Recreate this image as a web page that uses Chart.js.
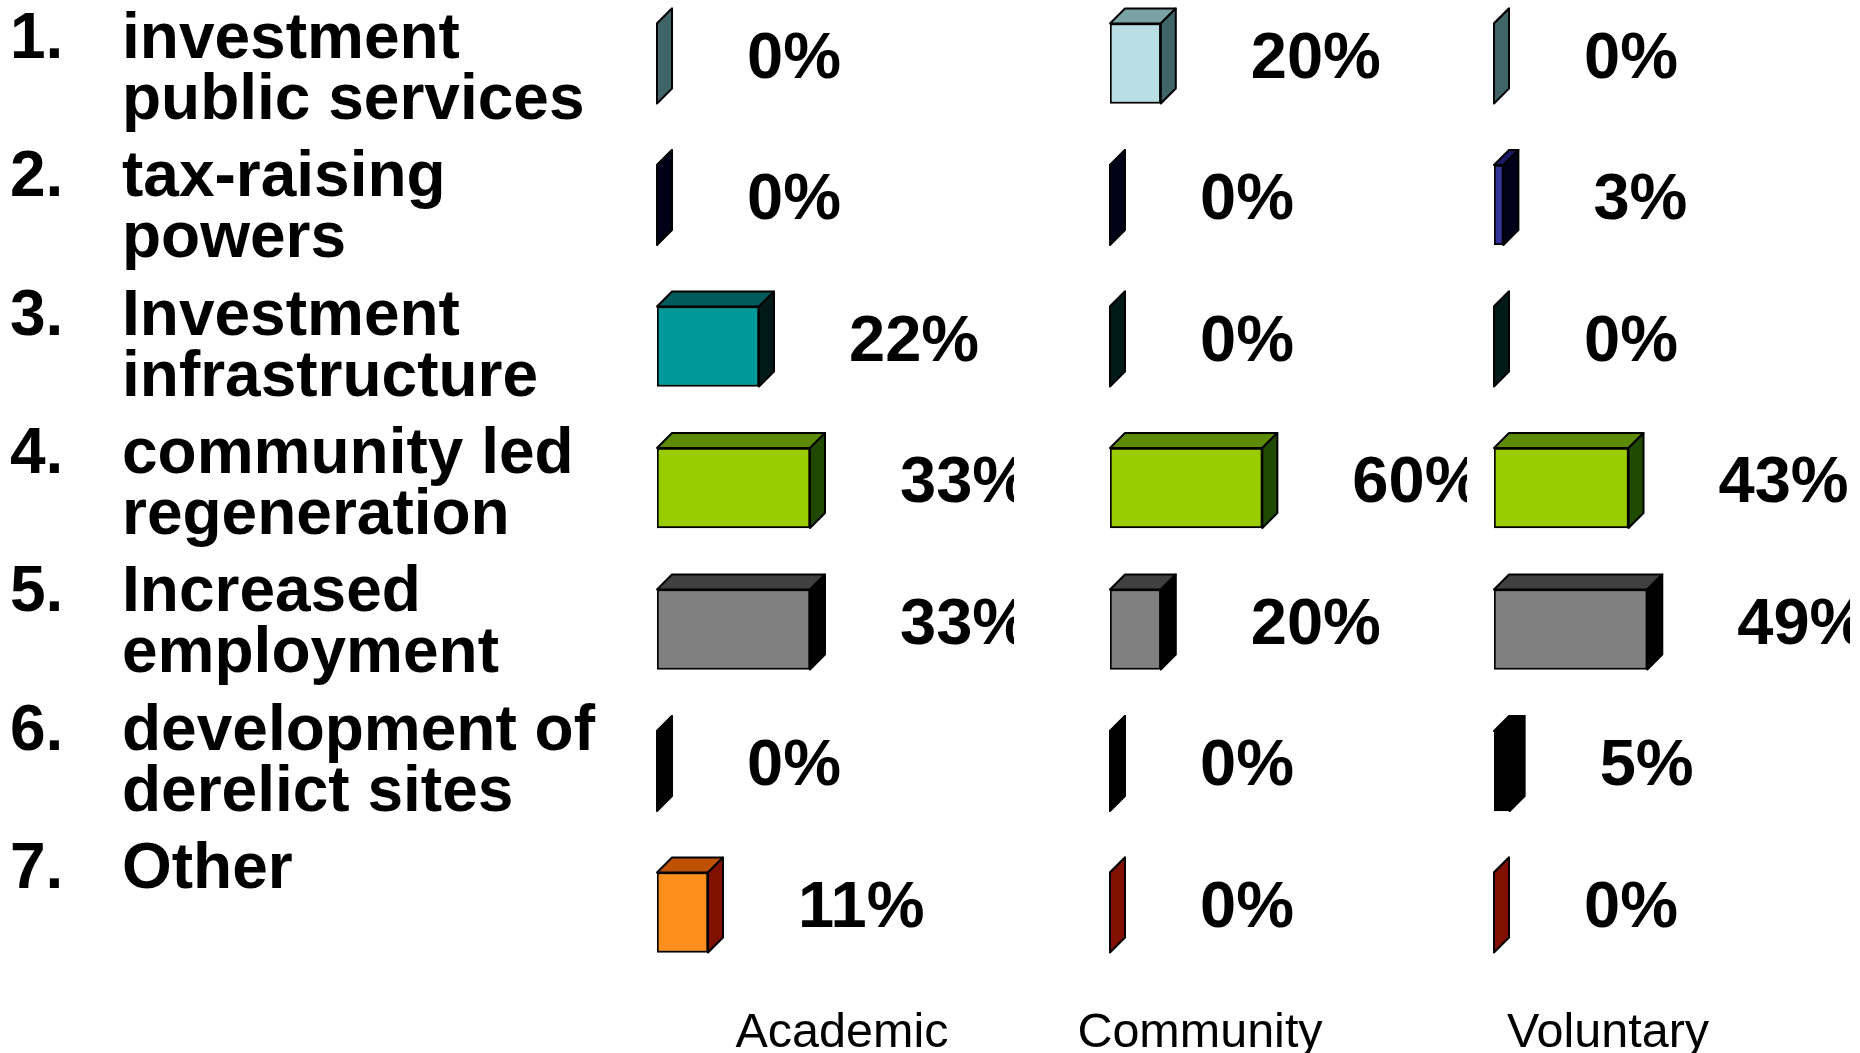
<!DOCTYPE html>
<html>
<head>
<meta charset="utf-8">
<script src="https://cdn.jsdelivr.net/npm/chart.js@4"></script>
<style>
html, body { margin: 0; padding: 0; width: 1860px; height: 1053px; background: #fff; overflow: hidden; }
body { position: relative; font-family: "Liberation Sans", Arial, sans-serif; color: #000; }
canvas { position: absolute; top: -30px; }
.num, .item { position: absolute; font-weight: bold; font-size: 64px; line-height: 61px; white-space: pre; }
.num { left: 10px; }
.item { left: 122px; }
.group { position: absolute; top: 1002px; font-size: 48.5px; line-height: 56px; width: 400px; margin-left: -200px; text-align: center; }
</style>
</head>
<body>
<canvas id="academicChart" width="365" height="1030" style="left:649px"></canvas>
<canvas id="communityChart" width="365" height="1030" style="left:1102px"></canvas>
<canvas id="voluntaryChart" width="364" height="1030" style="left:1486px"></canvas>
<div id="labels"></div>
<script>
const categories = [
    "investment\npublic services",
    "tax-raising\npowers",
    "Investment\ninfrastructure",
    "community led\nregeneration",
    "Increased\nemployment",
    "development of\nderelict sites",
    "Other"
];
const groups = ["Academic", "Community", "Voluntary"];
const academicValues = [0, 0, 22, 33, 33, 0, 11];
const communityValues = [20, 0, 0, 60, 20, 0, 0];
const voluntaryValues = [0, 3, 0, 43, 49, 5, 0];

const frontColors = ["#b8dfe3", "#333399", "#009999", "#99cc00", "#808080", "#000000", "#ff8f1c"];
const topColors = ["#7aa3a6", "#1a1a66", "#005c5c", "#5c8a00", "#404040", "#000000", "#bf5200"];
const sideColors = ["#3f6569", "#000018", "#001a1a", "#1f4a00", "#000000", "#000000", "#801000"];

// the boxes get their top and side here, the front is the normal bar
const box3d = {
    id: "box3d",
    afterDatasetsDraw(chart) {
        const ctx = chart.ctx;
        const dx = 15, dy = 15;
        const values = chart.data.datasets[0].data;
        chart.getDatasetMeta(0).data.forEach((bar, i) => {
            const top = bar.y - bar.height / 2;
            const bottom = bar.y + bar.height / 2;
            ctx.save();
            ctx.strokeStyle = "#000";
            ctx.lineWidth = 2;
            ctx.lineJoin = "round";

            ctx.beginPath();
            ctx.moveTo(bar.base, top);
            ctx.lineTo(bar.x, top);
            ctx.lineTo(bar.x + dx, top - dy);
            ctx.lineTo(bar.base + dx, top - dy);
            ctx.closePath();
            ctx.fillStyle = topColors[i];
            ctx.fill();
            ctx.stroke();

            ctx.beginPath();
            ctx.moveTo(bar.x, top);
            ctx.lineTo(bar.x + dx, top - dy);
            ctx.lineTo(bar.x + dx, bottom - dy);
            ctx.lineTo(bar.x, bottom);
            ctx.closePath();
            ctx.fillStyle = sideColors[i];
            ctx.fill();
            ctx.stroke();

            ctx.fillStyle = "#000";
            ctx.font = "bold 65px 'Liberation Sans'";
            ctx.textAlign = "left";
            ctx.textBaseline = "alphabetic";
            ctx.fillText(values[i] + "%", bar.x + dx + 75, bar.y + 14);
            ctx.restore();
        });
    }
};

function panel(id, values, xMax) {
    new Chart(document.getElementById(id), {
        type: "bar",
        data: {
            labels: categories.map(c => c.replace("\n", " ")),
            datasets: [{
                data: values,
                backgroundColor: frontColors,
                borderColor: "#000",
                borderWidth: 2,
                borderSkipped: false,
                barThickness: 80
            }]
        },
        options: {
            indexAxis: "y",
            responsive: false,
            animation: false,
            layout: { padding: { left: 8, right: 0, top: 22.75, bottom: 16.75 } },
            plugins: { legend: { display: false }, tooltip: { enabled: false } },
            scales: {
                x: { display: false, min: 0, max: xMax },
                y: { display: false }
            }
        },
        plugins: [box3d]
    });
}

panel("academicChart", academicValues, 77);
panel("communityChart", communityValues, 140.6);
panel("voluntaryChart", voluntaryValues, 113.8);

// numbered list on the left and the group names under the panels
const labels = document.getElementById("labels");
categories.forEach((c, i) => {
    const num = document.createElement("div");
    num.className = "num";
    num.textContent = (i + 1) + ".";
    num.style.top = (6 + i * 138.3) + "px";
    labels.appendChild(num);
    const item = document.createElement("div");
    item.className = "item";
    item.textContent = c;
    item.style.top = (6 + i * 138.3) + "px";
    labels.appendChild(item);
});
const groupCentres = [842, 1200, 1608];
groups.forEach((g, i) => {
    const el = document.createElement("div");
    el.className = "group";
    el.textContent = g;
    el.style.left = groupCentres[i] + "px";
    labels.appendChild(el);
});
</script>
</body>
</html>
